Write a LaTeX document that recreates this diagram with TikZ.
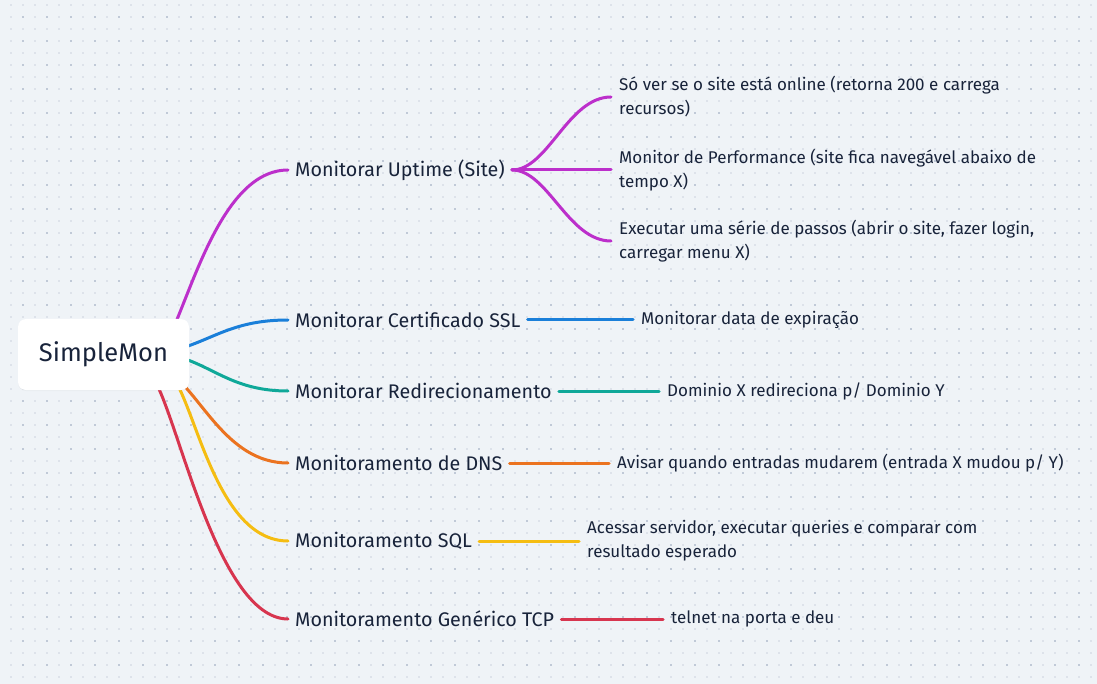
\documentclass[tikz,border=0pt]{standalone}
\usepackage{fontspec}
\setmainfont{Fira Sans}
\usetikzlibrary{shadows}
\definecolor{bgcol}{HTML}{EFF3F7}
\definecolor{dotlight}{HTML}{DDE2EA}
\definecolor{dotdark}{HTML}{C0C9D7}
\definecolor{inkcol}{HTML}{18233A}
\definecolor{uptimecol}{HTML}{BC2FCB}
\definecolor{sslcol}{HTML}{1A7FD9}
\definecolor{redircol}{HTML}{0FA899}
\definecolor{dnscol}{HTML}{EB7320}
\definecolor{sqlcol}{HTML}{F5BD12}
\definecolor{tcpcol}{HTML}{D7354F}
\pgfdeclarelayer{bg}
\pgfsetlayers{bg,main}
\tikzset{
  rootbox/.style={rectangle, rounded corners=8pt, fill=white, minimum width=171pt,
    minimum height=71pt, text=inkcol, font=\fontsize{25.5}{30}\selectfont,
    drop shadow={opacity=0.06, shadow xshift=0pt, shadow yshift=-1pt}},
  branch/.style={anchor=west, inner xsep=7pt, inner ysep=0pt, text=inkcol,
    font=\fontsize{19.7}{23}\selectfont},
  leaf/.style={anchor=west, inner xsep=8pt, inner ysep=0pt, text=inkcol, align=left,
    font=\fontsize{17}{24}\selectfont},
  wire/.style={line width=3pt, line cap=round}
}
\begin{document}
\begin{tikzpicture}[x=1pt, y=-1pt]
  \useasboundingbox (0,0) rectangle (1097,684);
  \begin{pgfonlayer}{bg}
    \fill[bgcol] (0,0) rectangle (1097,684);
    % dotted paper
    \foreach \gx in {11,23,...,1097}
      \foreach \gy in {5,17,...,684}
        \fill[dotlight] (\gx-1,\gy-1) rectangle ++(2,2);
    \foreach \gx in {23,47,...,1097}
      \foreach \gy in {17,41,...,684}
        \fill[dotdark] (\gx-1,\gy-1) rectangle ++(2,2);
  \end{pgfonlayer}

  \node[rootbox] (root) at (103.5,354.5) {SimpleMon};

  \node[branch] (uptime) at (288,170) {Monitorar Uptime (Site)};
  \node[branch] (ssl) at (288,320) {Monitorar Certificado SSL};
  \node[branch] (redir) at (288,391) {Monitorar Redirecionamento};
  \node[branch] (dns) at (288,463) {Monitoramento de DNS};
  \node[branch] (sql) at (288,541) {Monitoramento SQL};
  \node[branch] (tcp) at (288,619) {Monitoramento Genérico TCP};

  \node[leaf] (online) at (611,97) {Só ver se o site está online (retorna 200 e carrega\\recursos)};
  \node[leaf] (perf) at (611,170) {Monitor de Performance (site fica navegável abaixo de\\tempo X)};
  \node[leaf] (steps) at (611,241) {Executar uma série de passos (abrir o site, fazer login,\\carregar menu X)};
  \node[leaf] (expiry) at (633,320) {Monitorar data de expiração};
  \node[leaf] (domain) at (659,391) {Dominio X redireciona p/ Dominio Y};
  \node[leaf] (entries) at (609,463) {Avisar quando entradas mudarem (entrada X mudou p/ Y)};
  \node[leaf] (queries) at (579,541) {Acessar servidor, executar queries e comparar com\\resultado esperado};
  \node[leaf] (telnet) at (663,619) {telnet na porta e deu};

  \begin{pgfonlayer}{bg}
    % from the root
    \draw[wire, uptimecol] ([shift={(62,-10)}]root.center) .. controls (190,300) and (220,170) .. (uptime.west);
    \draw[wire, sslcol] ([shift={(77,-6)}]root.center) .. controls (215,338) and (235,320) .. (ssl.west);
    \draw[wire, redircol] ([shift={(77,3)}]root.center) .. controls (215,368) and (235,391) .. (redir.west);
    \draw[wire, dnscol] ([shift={(62,15)}]root.center) .. controls (200,390) and (225,463) .. (dns.west);
    \draw[wire, sqlcol] ([shift={(67,20)}]root.center) .. controls (195,400) and (215,541) .. (sql.west);
    \draw[wire, tcpcol] ([shift={(47,20)}]root.center) .. controls (175,400) and (215,619) .. (tcp.west);
    % to the leaves
    \draw[wire, uptimecol] (uptime.east) .. controls (548,170) and (568,97) .. (online.west);
    \draw[wire, uptimecol] (uptime.east) -- (perf.west);
    \draw[wire, uptimecol] (uptime.east) .. controls (548,170) and (568,241) .. (steps.west);
    \draw[wire, sslcol] (ssl.east) -- (expiry.west);
    \draw[wire, redircol] (redir.east) -- (domain.west);
    \draw[wire, dnscol] (dns.east) -- (entries.west);
    \draw[wire, sqlcol] (sql.east) -- (queries.west);
    \draw[wire, tcpcol] (tcp.east) -- (telnet.west);
  \end{pgfonlayer}
\end{tikzpicture}
\end{document}
